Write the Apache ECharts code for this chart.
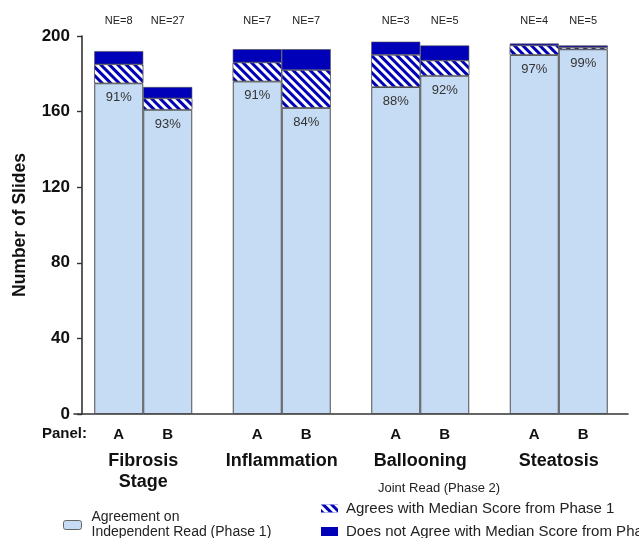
<!DOCTYPE html>
<html>
<head>
<meta charset="utf-8">
<script src="https://cdn.jsdelivr.net/npm/echarts@6/dist/echarts.min.js"></script>
<style>html,body{margin:0;padding:0;background:#fff}#c{width:639px;height:538px}</style>
</head>
<body>
<div id="c"></div>
<script>
var categories = ['Fibrosis\nStage', 'Inflammation', 'Ballooning', 'Steatosis'];
var panels = ['A', 'B'];
var yTicks = [0, 40, 80, 120, 160, 200];
// Agreement on independent read (Phase 1)
var agreeA = [175, 176, 173, 190];
var agreeB = [161, 162, 179, 193];
// Joint read: agrees with median score from phase 1
var jointAgreeA = [10, 10, 17, 5];
var jointAgreeB = [6, 20, 8, 1];
// Joint read: does not agree
var jointDisA = [7, 7, 7, 1];
var jointDisB = [6, 11, 8, 1];
// Not evaluable
var neA = [8, 7, 3, 4];
var neB = [27, 7, 5, 5];
// Percent agreement labels
var pctA = [91, 91, 88, 97];
var pctB = [93, 84, 92, 99];

var NAME_LIGHT = 'Agreement on\nIndependent Read (Phase 1)';
var NAME_HATCH = 'Agrees with Median Score from Phase 1';
var NAME_DARK = 'Does not Agree with Median Score from Phase 1';
var LIGHT = '#c6dcf5', DARK = '#0000b8', BORDER = '#505050';
var FONT = 'Liberation Sans, Arial, sans-serif';

var hatchDecal = {
  symbol: 'rect', symbolSize: 1,
  dashArrayX: [[1, 0]], dashArrayY: [3, 3],
  rotation: Math.PI / 4, color: '#ffffff'
};

var data = {
  A: {agree: agreeA, jAgree: jointAgreeA, jDis: jointDisA, ne: neA, pct: pctA},
  B: {agree: agreeB, jAgree: jointAgreeB, jDis: jointDisB, ne: neB, pct: pctB}
};

var series = [];
panels.forEach(function (p) {
  var d = data[p];
  series.push({
    name: 'panel' + p, type: 'bar', stack: p, barWidth: 49, barGap: '0%',
    data: d.agree.map(function () { return 0; }),
    itemStyle: {color: 'transparent'},
    label: {show: true, position: 'bottom', distance: 13, formatter: p,
      fontFamily: FONT, fontWeight: 'bold', fontSize: 15, color: '#111'},
    silent: true
  });
  series.push({
    name: NAME_LIGHT, type: 'bar', stack: p, barWidth: 49, barGap: '0%',
    data: d.agree,
    itemStyle: {color: LIGHT, borderColor: BORDER, borderWidth: 1},
    label: {show: true, position: 'insideTop', distance: 8,
      formatter: function (prm) { return d.pct[prm.dataIndex] + '%'; },
      fontFamily: FONT, fontSize: 13, color: '#333'}
  });
  series.push({
    name: NAME_HATCH, type: 'bar', stack: p, barWidth: 49, barGap: '0%',
    data: d.jAgree,
    itemStyle: {color: DARK, decal: hatchDecal, borderColor: BORDER, borderWidth: 0.6}
  });
  series.push({
    name: NAME_DARK, type: 'bar', stack: p, barWidth: 49, barGap: '0%',
    data: d.jDis,
    itemStyle: {color: DARK, borderColor: BORDER, borderWidth: 0.6}
  });
  series.push({
    name: 'NE' + p, type: 'bar', stack: p, barWidth: 49, barGap: '0%',
    data: d.ne,
    itemStyle: {color: 'transparent'},
    label: {show: true, position: 'top', distance: 10,
      formatter: function (prm) { return 'NE=' + prm.value; },
      fontFamily: FONT, fontSize: 11, color: '#222'},
    silent: true
  });
});

var chart = echarts.init(document.getElementById('c'), null, {renderer: 'canvas'});
chart.setOption({
  animation: false,
  aria: {enabled: false, decal: {show: false}},
  title: [{
    text: 'Joint Read (Phase 2)', left: 373, top: 477,
    textStyle: {fontFamily: FONT, fontSize: 13, fontWeight: 'normal', color: '#222'}
  }, {
    text: 'Panel:', left: 37, top: 421,
    textStyle: {fontFamily: FONT, fontSize: 15, fontWeight: 'bold', color: '#111'}
  }],
  grid: {left: 74, right: 11, top: 36, bottom: 124, containLabel: false},
  xAxis: {
    type: 'category', data: categories,
    axisLine: {lineStyle: {color: '#333', width: 1.6}},
    axisTick: {show: false},
    axisLabel: {interval: 0, margin: 37, fontFamily: FONT, fontWeight: 'bold', fontSize: 18, color: '#111', lineHeight: 21}
  },
  yAxis: {
    type: 'value', min: 0, max: 200, interval: 40, offset: -8,
    name: 'Number of Slides', nameLocation: 'middle', nameGap: 53,
    nameTextStyle: {fontFamily: FONT, fontWeight: 'bold', fontSize: 17.5, color: '#111'},
    axisLine: {show: true, lineStyle: {color: '#333', width: 1.6}},
    axisTick: {show: true, inside: false, length: 5, lineStyle: {color: '#333', width: 1.4}},
    splitLine: {show: false},
    axisLabel: {fontFamily: FONT, fontWeight: 'bold', fontSize: 17, color: '#111', margin: 12,
      formatter: function (v) { return yTicks.indexOf(v) >= 0 ? String(v) : ''; }}
  },
  legend: [{
    data: [NAME_LIGHT], left: 58, top: 505, orient: 'vertical',
    itemWidth: 18, itemHeight: 9, icon: 'roundRect',
    itemStyle: {borderColor: '#666', borderWidth: 1},
    textStyle: {fontFamily: FONT, fontSize: 14, color: '#222', lineHeight: 15, padding: [0, 0, 0, 5]}
  }, {
    data: [NAME_HATCH], left: 316, top: 496, orient: 'horizontal',
    itemWidth: 17, itemHeight: 8, icon: 'rect',
    itemStyle: {borderWidth: 0},
    textStyle: {fontFamily: FONT, fontSize: 15, color: '#222', padding: [0, 0, 0, 3]}
  }, {
    data: [NAME_DARK], left: 316, top: 519, orient: 'horizontal',
    itemWidth: 17, itemHeight: 9, icon: 'rect',
    itemStyle: {borderWidth: 0},
    textStyle: {fontFamily: FONT, fontSize: 15, color: '#222', padding: [0, 0, 0, 3]}
  }],
  series: series
});
</script>
</body>
</html>
